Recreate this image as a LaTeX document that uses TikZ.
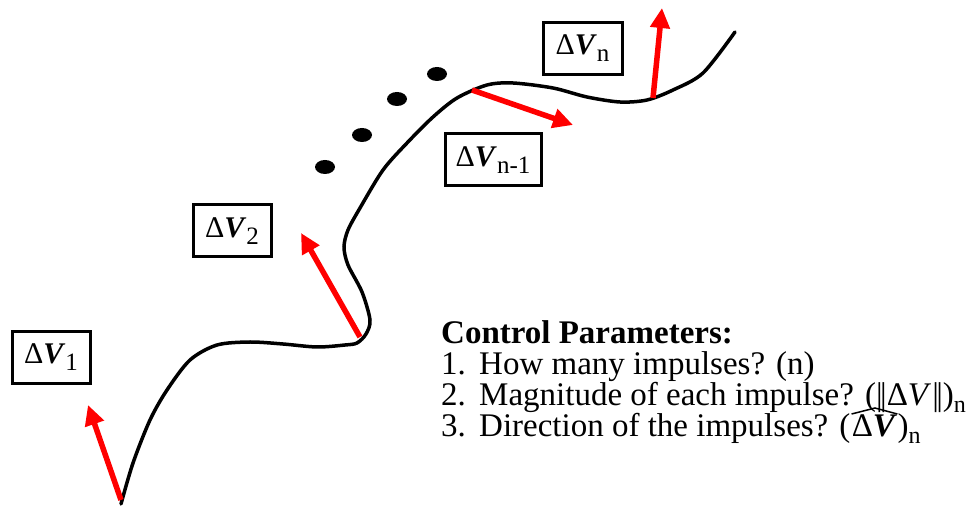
\documentclass[tikz,border=0pt]{standalone}
\usepackage{fontspec}
\setmainfont{Liberation Serif}
\usetikzlibrary{arrows.meta}
\newcommand{\dV}[1]{Δ\textbf{\textit{V}}\raisebox{-7pt}{\fontsize{25}{25}\selectfont #1}}
\newcommand{\subn}{\raisebox{-7pt}{\fontsize{24}{24}\selectfont n}}
\newcommand{\dbar}{|\kern-2.5pt|}
\begin{document}
\begin{tikzpicture}[x=1pt,y=1pt,
  lbl/.style={draw=black, line width=3pt, inner sep=0pt, minimum height=52pt, font=\fontsize{30}{30}\selectfont},
  curve/.style={line width=3.5pt, line cap=round},
  imp/.style={draw=red, line width=5.5pt, -{Triangle[length=20pt,width=19pt]}},
  txt/.style={anchor=base west, inner sep=0pt, font=\fontsize{33}{34}\selectfont}]
\useasboundingbox (0,0) rectangle (980,506);
% trajectory
\draw[curve] plot[smooth, tension=0.5] coordinates {
 (121,2) (133,43) (150,86) (167,116) (190,146) (217,161) (250,164) (283,162) (317,159) (345,161)
 (357,163) (366,172) (370,186) (362,214) (348,241) (344,259) (348,276) (360,298) (383,336)
 (407,363) (433,389) (457,408) (487,421) (513,423) (553,418) (587,409) (620,404) (647,406)
 (673,416) (703,433) (735,474)};
% impulse points
\coordinate (p1) at (121,6);
\coordinate (t1) at (88,101);
\coordinate (p2) at (360,169);
\coordinate (t2) at (301,273);
\coordinate (p3) at (472,416);
\coordinate (t3) at (573,381);
\coordinate (p4) at (653,408);
\coordinate (t4) at (662,498);
\draw[imp] (p1) -- (t1);
\draw[imp] (p2) -- (t2);
\draw[imp] (p3) -- (t3);
\draw[imp] (p4) -- (t4);
% dots
\fill (325,339) ellipse [x radius=10, y radius=7];
\fill (362,371) ellipse [x radius=10, y radius=7];
\fill (397,407) ellipse [x radius=10, y radius=7];
\fill (437,432) ellipse [x radius=10, y radius=7];
% labels
\node[lbl, minimum width=78pt] (L1) at (51,148.5) {\dV{1}};
\node[lbl, minimum width=78pt] (L2) at (232,275) {\dV{2}};
\node[lbl, minimum width=96pt] (L3) at (493,346) {\dV{n-1}};
\node[lbl, minimum width=79pt] (L4) at (582.5,457.5) {\dV{n}};
% control parameters
\node[txt] (c0) at (441,162) {\textbf{Control Parameters:}};
\node[txt] (c1) at (441,131) {\makebox[38pt][l]{1.}How many impulses?\hspace{11pt}(n)};
\node[txt] (c2) at (441,100) {\makebox[38pt][l]{2.}Magnitude of each impulse?\hspace{11pt}(\dbar Δ\textit{V}\kern1pt\dbar)\subn};
\node[txt] (c3) at (441,69) {\makebox[38pt][l]{3.}Direction of the impulses?\hspace{11pt}(};
\node[txt] (c3v) at (c3.base east) {\kern1pt Δ\textbf{\textit{V}}};
\node[txt] (c3e) at (c3v.base east) {)\subn};
\draw[line width=1.5pt, line join=miter] ([xshift=1pt,yshift=1pt]c3v.north west) -- ([xshift=1pt,yshift=7pt]c3v.north) -- ([xshift=0pt,yshift=1pt]c3v.north east);
\end{tikzpicture}
\end{document}
